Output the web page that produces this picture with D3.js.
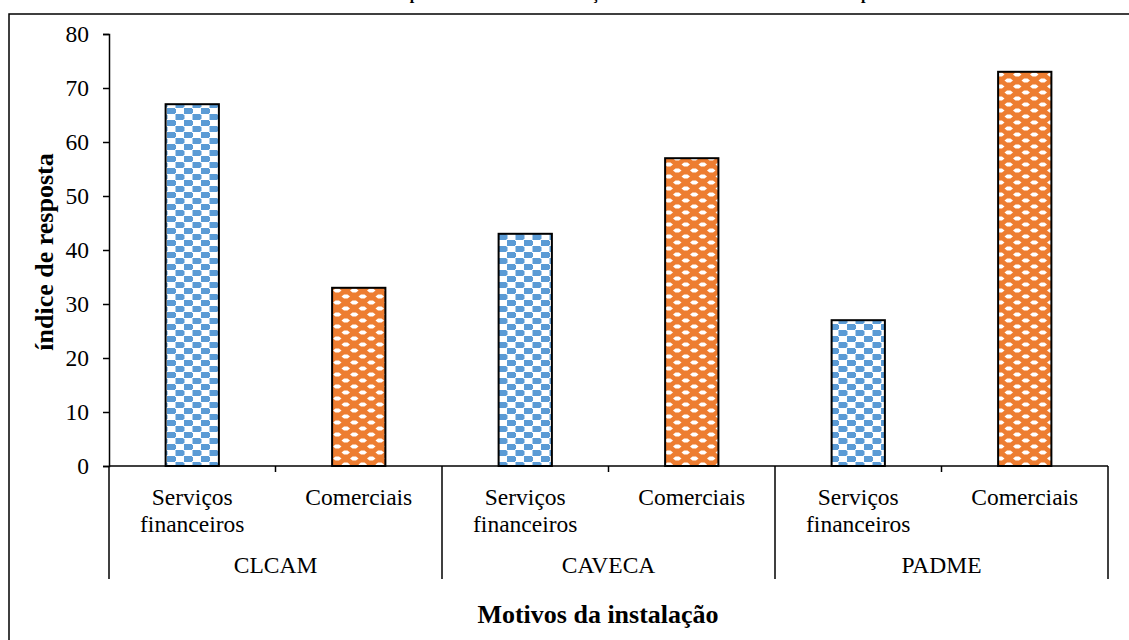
<!DOCTYPE html>
<html>
<head>
<meta charset="utf-8">
<script src="https://cdn.jsdelivr.net/npm/d3@7"></script>
<style>
  body { margin: 0; background: #fff; }
  svg { display: block; }
</style>
</head>
<body>
<script>
'use strict';

// chart data
const groups = ['CLCAM', 'CAVECA', 'PADME'];
const categories = ['Serviços financeiros', 'Comerciais'];
const catLines = [['Serviços', 'financeiros'], ['Comerciais']];
const servicosValues = [67, 43, 27];
const comerciaisValues = [33, 57, 73];
const yTicks = [0, 10, 20, 30, 40, 50, 60, 70, 80];
const chartTitle = 'Empresas e motivos da instalação nas estruturas de financiamento e apoio';
const xTitle = 'Motivos da instalação';
const yTitle = 'índice de resposta';

const width = 1129;
const height = 640;
const plotLeft = 109, plotRight = 1108, plotTop = 34, plotBottom = 466;
const fontFamily = "'Liberation Serif', 'Times New Roman', serif";
const fontSize = 23.5;

const svg = d3.select('body').append('svg')
  .attr('width', width)
  .attr('height', height)
  .attr('font-family', fontFamily);

// fill patterns
const defs = svg.append('defs');
const blue = '#5b9bd5';
const orange = '#ed7d31';

// blue: offset checker blocks
const pBlue = defs.append('pattern')
  .attr('id', 'pat-blue')
  .attr('patternUnits', 'userSpaceOnUse')
  .attr('x', 167).attr('y', 0)
  .attr('width', 17).attr('height', 12);
pBlue.append('rect').attr('width', 17).attr('height', 12).attr('fill', '#fff');
pBlue.append('path')
  .attr('d', 'M0,0 H8 V1 H9 V5 H8 V6 H0 Z M8.5,6 H16.5 V7 H17.5 V11 H16.5 V12 H8.5 Z M-0.5,7 H0.5 V11 H-0.5 Z')
  .attr('fill', blue);

// orange: wavy band with white blobs
const pOrange = defs.append('pattern')
  .attr('id', 'pat-orange')
  .attr('patternUnits', 'userSpaceOnUse')
  .attr('x', 333).attr('y', 0)
  .attr('width', 17).attr('height', 12);
pOrange.append('rect').attr('width', 17).attr('height', 12).attr('fill', orange);
pOrange.append('path')
  .attr('d', 'M0,2.5 L2.5,0.5 H6 L8.5,2.5 L6,4.5 H2.5 Z M8.5,8.5 L11,6.5 H14.5 L17,8.5 L14.5,10.5 H11 Z M-8.5,8.5 L-6,6.5 H-2.5 L0,8.5 L-2.5,10.5 H-6 Z M17,2.5 L19.5,0.5 H23 L25.5,2.5 L23,4.5 H19.5 Z')
  .attr('fill', '#fff');

// frame
svg.append('rect')
  .attr('x', 9).attr('y', 14)
  .attr('width', 1300).attr('height', 800)
  .attr('fill', 'none')
  .attr('stroke', '#000')
  .attr('stroke-width', 1.5);

// title (mostly clipped above the frame, as in the source)
svg.append('text')
  .attr('x', 638)
  .attr('y', -1)
  .attr('text-anchor', 'middle')
  .attr('font-family', fontFamily)
  .attr('font-size', 16)
  .attr('font-weight', 'bold')
  .text(chartTitle);

// scales
const x0 = d3.scaleBand().domain(groups).range([plotLeft, plotRight]);
const x1 = d3.scaleBand().domain(categories).range([0, x0.bandwidth()]);
const y = d3.scaleLinear().domain([0, 80]).range([plotBottom, plotTop]);

// y axis
const yAxis = d3.axisLeft(y).tickValues(yTicks).tickSize(6).tickPadding(14);
const gy = svg.append('g')
  .attr('transform', 'translate(' + plotLeft + ',0)')
  .call(yAxis)
  .attr('font-family', fontFamily)
  .attr('font-size', fontSize);
gy.select('.domain').attr('stroke-width', 1.5);
gy.selectAll('.tick line').attr('stroke-width', 1.5);
gy.selectAll('.tick text')
  .attr('font-family', fontFamily)
  .attr('fill', '#000');

// bars
const rows = [];
groups.forEach((g, i) => {
  rows.push({ group: g, cat: categories[0], value: servicosValues[i], fill: 'url(#pat-blue)' });
  rows.push({ group: g, cat: categories[1], value: comerciaisValues[i], fill: 'url(#pat-orange)' });
});
const barW = x1.bandwidth() * 0.32;

svg.append('g')
  .selectAll('rect')
  .data(rows)
  .enter()
  .append('rect')
  .attr('x', d => x0(d.group) + x1(d.cat) + x1.bandwidth() / 2 - barW / 2)
  .attr('y', d => y(d.value))
  .attr('width', barW)
  .attr('height', d => y(0) - y(d.value))
  .attr('fill', d => d.fill)
  .attr('stroke', '#000')
  .attr('stroke-width', 2);

// x axis line
svg.append('line')
  .attr('x1', plotLeft).attr('x2', plotRight)
  .attr('y1', plotBottom).attr('y2', plotBottom)
  .attr('stroke', '#000')
  .attr('stroke-width', 1.5);

// group boundaries (long) and category separators (short)
const boundaries = groups.map(g => x0(g)).concat([plotRight]);
svg.append('g')
  .selectAll('line')
  .data(boundaries)
  .enter()
  .append('line')
  .attr('x1', d => d).attr('x2', d => d)
  .attr('y1', plotBottom).attr('y2', 579)
  .attr('stroke', '#000')
  .attr('stroke-width', 1.5);

svg.append('g')
  .selectAll('line')
  .data(groups)
  .enter()
  .append('line')
  .attr('x1', g => x0(g) + x1(categories[1]))
  .attr('x2', g => x0(g) + x1(categories[1]))
  .attr('y1', plotBottom).attr('y2', plotBottom + 6)
  .attr('stroke', '#000')
  .attr('stroke-width', 1.5);

// category labels
groups.forEach(g => {
  categories.forEach((c, ci) => {
    const t = svg.append('text')
      .attr('text-anchor', 'middle')
      .attr('font-family', fontFamily)
      .attr('font-size', fontSize);
    catLines[ci].forEach((line, li) => {
      t.append('tspan')
        .attr('x', x0(g) + x1(c) + x1.bandwidth() / 2)
        .attr('y', 505 + li * 27)
        .text(line);
    });
  });
});

// group labels
svg.append('g')
  .selectAll('text')
  .data(groups)
  .enter()
  .append('text')
  .attr('x', g => x0(g) + x0.bandwidth() / 2)
  .attr('y', 573)
  .attr('text-anchor', 'middle')
  .attr('font-family', fontFamily)
  .attr('font-size', fontSize)
  .text(g => g);

// axis titles
svg.append('text')
  .attr('x', 598)
  .attr('y', 623)
  .attr('text-anchor', 'middle')
  .attr('font-family', fontFamily)
  .attr('font-size', 26)
  .attr('font-weight', 'bold')
  .text(xTitle);

svg.append('text')
  .attr('transform', 'translate(53, 252)rotate(-90)')
  .attr('text-anchor', 'middle')
  .attr('font-family', fontFamily)
  .attr('font-size', 26)
  .attr('font-weight', 'bold')
  .text(yTitle);
</script>
</body>
</html>
